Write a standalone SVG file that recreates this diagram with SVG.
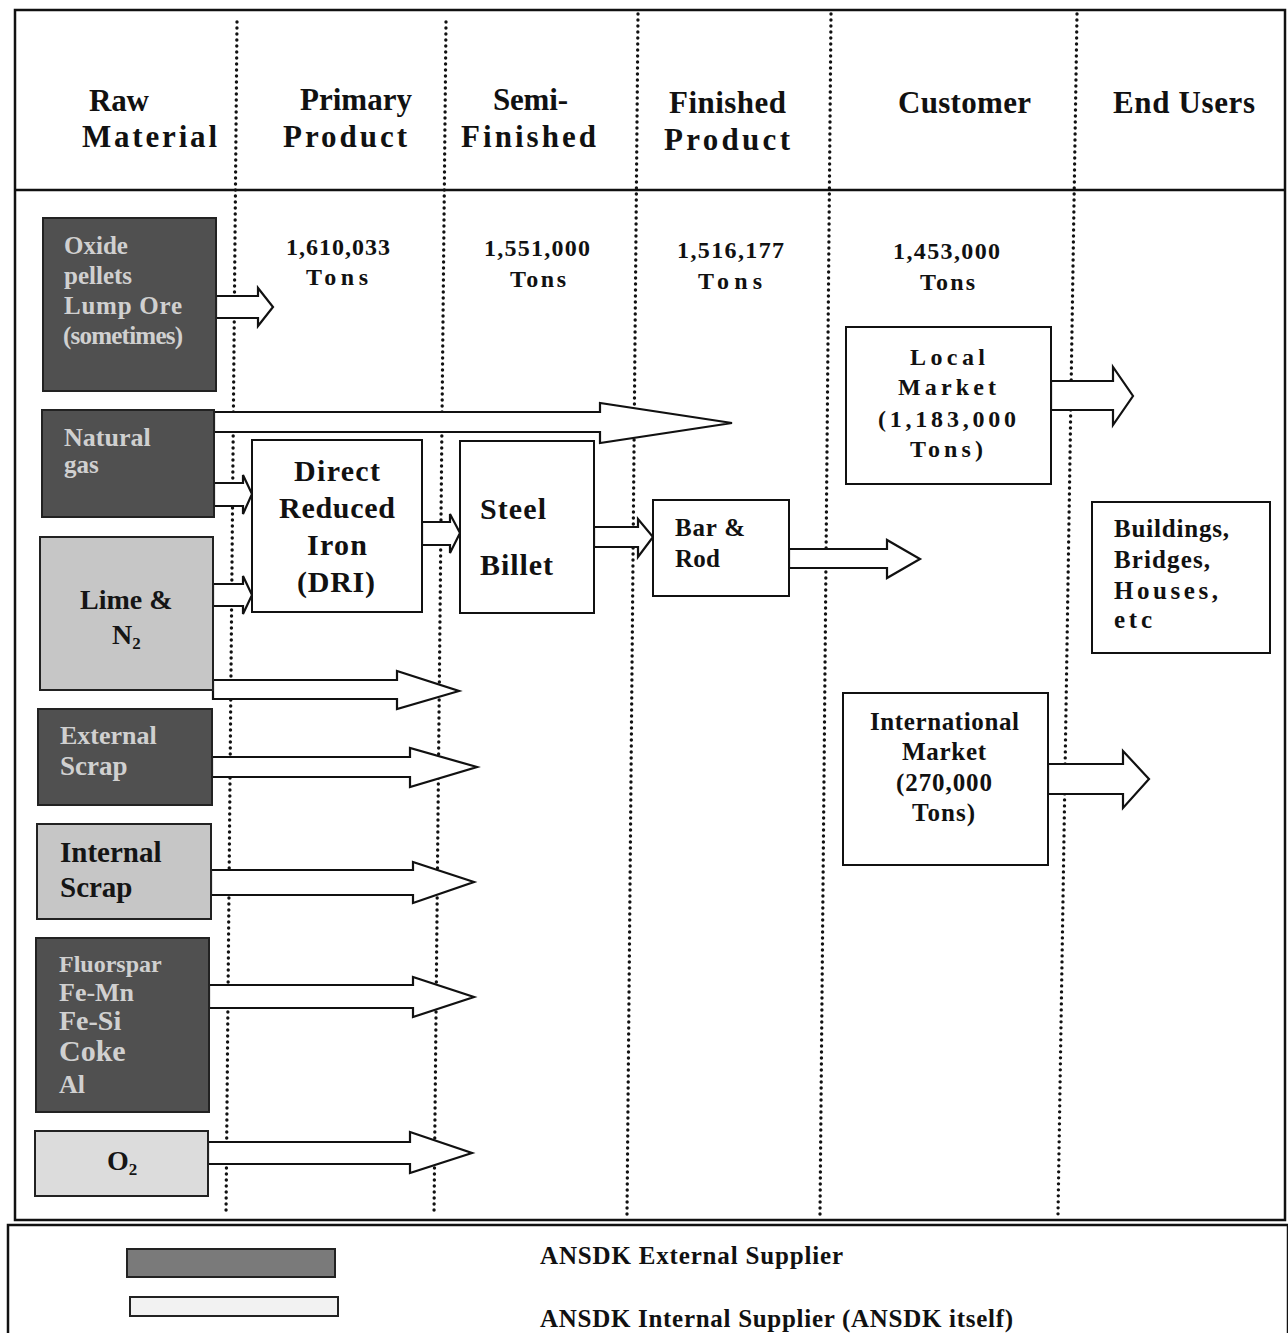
<svg xmlns="http://www.w3.org/2000/svg" width="1288" height="1333" viewBox="0 0 1288 1333">
<defs>
<style>
text{font-family:"Liberation Serif","Times New Roman",serif;font-weight:bold;fill:#111}
.hd{font-size:31px}
.num{font-size:24px}
.lt{fill:#d0d0d0;font-size:25px}
.dk{fill:#151515;font-size:29px}
.box{fill:#fff;stroke:#111;stroke-width:2}
.dark{fill:#505050;stroke:#222;stroke-width:2}
.light{fill:#c6c6c6;stroke:#222;stroke-width:2}
.arrow{fill:#fff;stroke:#111;stroke-width:2.2;stroke-linejoin:miter}
.dot{stroke:#111;stroke-width:3.4;stroke-dasharray:0 6;stroke-linecap:round;fill:none}
.frame{fill:none;stroke:#111;stroke-width:2.5}
</style>
</defs>
<rect width="1288" height="1333" fill="#fff"/>
<g id="frame">
<rect class="frame" x="15" y="10" width="1270" height="1210"/>
<line x1="15" y1="190" x2="1285" y2="190" stroke="#111" stroke-width="2.5"/>
<rect class="frame" x="8" y="1225" width="1280" height="110"/>
</g>
<g id="swimlanes">
<line class="dot" x1="237" y1="22" x2="226" y2="1215"/>
<line class="dot" x1="446" y1="22" x2="434" y2="1215"/>
<line class="dot" x1="638" y1="14" x2="627" y2="1215"/>
<line class="dot" x1="831" y1="14" x2="820" y2="1215"/>
<line class="dot" x1="1077" y1="14" x2="1058" y2="1215"/>
</g>
<g id="headers" class="hd">
<text x="89" y="111" textLength="60">Raw</text>
<text x="82" y="147" textLength="135">Material</text>
<text x="300" y="110" textLength="112">Primary</text>
<text x="283" y="147" textLength="124">Product</text>
<text x="493" y="110" textLength="75">Semi-</text>
<text x="461" y="147" textLength="135">Finished</text>
<text x="669" y="113" textLength="117">Finished</text>
<text x="664" y="150" textLength="126">Product</text>
<text x="898" y="113" textLength="133">Customer</text>
<text x="1113" y="113" textLength="142">End Users</text>
</g>
<g id="quantities" class="num">
<text x="286" y="255" textLength="104">1,610,033</text>
<text x="306" y="285" textLength="62">Tons</text>
<text x="484" y="256" textLength="106">1,551,000</text>
<text x="510" y="287" textLength="56">Tons</text>
<text x="677" y="258" textLength="107">1,516,177</text>
<text x="698" y="289" textLength="64">Tons</text>
<text x="893" y="259" textLength="107">1,453,000</text>
<text x="920" y="290" textLength="55">Tons</text>
</g>
<g id="connectors">
<path class="arrow" d="M216,296 H258 V288 L273,307 L258,326 V318 H216 Z"/>
<path class="arrow" d="M214,412 H600 V403 L732,423 L600,443 V432 H214 Z"/>
<path class="arrow" d="M214,483 H243 V475 L252,494 L243,514 V506 H214 Z"/>
<path class="arrow" d="M213,584 H243 V576 L252,595 L243,614 V606 H213 Z"/>
<path class="arrow" d="M422,522 H450 V514 L460,533 L450,553 V545 H422 Z"/>
<path class="arrow" d="M594,527 H638 V519 L653,537 L638,557 V547 H594 Z"/>
<path class="arrow" d="M789,549 H887 V540 L920,559 L887,578 V568 H789 Z"/>
<path class="arrow" d="M213,680 H397 V671 L459,691 L397,709 V699 H213 Z"/>
<path class="arrow" d="M212,757 H410 V748 L477,767 L410,787 V777 H212 Z"/>
<path class="arrow" d="M211,870 H413 V862 L474,882 L413,903 V895 H211 Z"/>
<path class="arrow" d="M209,985 H413 V977 L474,997 L413,1017 V1008 H209 Z"/>
<path class="arrow" d="M208,1142 H410 V1132 L472,1153 L410,1173 V1164 H208 Z"/>
<path class="arrow" d="M1051,381 H1113 V367 L1133,396 L1113,425 V410 H1051 Z"/>
<path class="arrow" d="M1048,764 H1123 V751 L1149,779 L1123,808 V794 H1048 Z"/>
</g>
<g id="oxide">
<rect class="dark" x="43" y="218" width="173" height="173"/>
<text class="lt" x="64" y="254">Oxide</text>
<text class="lt" x="64" y="284">pellets</text>
<text class="lt" x="64" y="314" textLength="118">Lump Ore</text>
<text class="lt" x="63" y="344" textLength="120">(sometimes)</text>
</g>
<g id="natural-gas">
<rect class="dark" x="42" y="410" width="172" height="107"/>
<text class="lt" x="64" y="446" style="font-size:26px">Natural</text>
<text class="lt" x="64" y="473">gas</text>
</g>
<g id="lime">
<rect class="light" x="40" y="537" width="173" height="153"/>
<text class="dk" x="80" y="609" style="font-size:28px">Lime &amp;</text>
<text class="dk" x="112" y="644" style="font-size:28px">N<tspan font-size="17" dy="5">2</tspan></text>
</g>
<g id="external-scrap">
<rect class="dark" x="38" y="709" width="174" height="96"/>
<text class="lt" x="60" y="744" style="font-size:26px">External</text>
<text class="lt" x="60" y="775" style="font-size:27px">Scrap</text>
</g>
<g id="internal-scrap">
<rect class="light" x="37" y="824" width="174" height="95"/>
<text class="dk" x="60" y="862">Internal</text>
<text class="dk" x="60" y="897">Scrap</text>
</g>
<g id="fluorspar">
<rect class="dark" x="36" y="938" width="173" height="174"/>
<text class="lt" x="59" y="972" style="font-size:24px">Fluorspar</text>
<text class="lt" x="59" y="1001" style="font-size:26px">Fe-Mn</text>
<text class="lt" x="59" y="1030" style="font-size:28px">Fe-Si</text>
<text class="lt" x="59" y="1061" style="font-size:30px">Coke</text>
<text class="lt" x="59" y="1093" style="font-size:26px">Al</text>
</g>
<g id="oxygen">
<rect x="35" y="1131" width="173" height="65" fill="#dcdcdc" stroke="#222" stroke-width="2"/>
<text class="dk" x="107" y="1170" style="font-size:28px">O<tspan font-size="17" dy="5">2</tspan></text>
</g>
<g id="dri" style="font-size:30px">
<rect class="box" x="252" y="440" width="170" height="172"/>
<text x="294" y="481" textLength="86">Direct</text>
<text x="279" y="518" textLength="116">Reduced</text>
<text x="307" y="555" textLength="60">Iron</text>
<text x="297" y="592" textLength="78">(DRI)</text>
</g>
<g id="steel-billet" style="font-size:30px">
<rect class="box" x="460" y="441" width="134" height="172"/>
<text x="480" y="519" textLength="66">Steel</text>
<text x="480" y="575" textLength="73">Billet</text>
</g>
<g id="bar-rod" style="font-size:25px">
<rect class="box" x="653" y="500" width="136" height="96"/>
<text x="675" y="536" textLength="70">Bar &amp;</text>
<text x="675" y="567" textLength="45">Rod</text>
</g>
<g id="local-market" style="font-size:24px">
<rect class="box" x="846" y="327" width="205" height="157"/>
<text x="910" y="365" textLength="75">Local</text>
<text x="898" y="395" textLength="98">Market</text>
<text x="878" y="427" textLength="138">(1,183,000</text>
<text x="910" y="457" textLength="73">Tons)</text>
</g>
<g id="international-market" style="font-size:25px">
<rect class="box" x="843" y="693" width="205" height="172"/>
<text x="870" y="730" textLength="149">International</text>
<text x="902" y="760" textLength="84">Market</text>
<text x="896" y="791" textLength="96">(270,000</text>
<text x="912" y="821" textLength="63">Tons)</text>
</g>
<g id="end-users" style="font-size:25px">
<rect class="box" x="1092" y="502" width="178" height="151"/>
<text x="1114" y="537" textLength="115">Buildings,</text>
<text x="1114" y="568" textLength="96">Bridges,</text>
<text x="1114" y="599" textLength="104">Houses,</text>
<text x="1114" y="628" textLength="38">etc</text>
</g>
<g id="legend" style="font-size:25px">
<rect x="127" y="1249" width="208" height="28" fill="#7a7a7a" stroke="#222" stroke-width="2"/>
<rect x="130" y="1297" width="208" height="19" fill="#f2f2f2" stroke="#222" stroke-width="2"/>
<text x="540" y="1264" textLength="303">ANSDK External Supplier</text>
<text x="540" y="1327" textLength="473">ANSDK Internal Supplier (ANSDK itself)</text>
</g>
</svg>
